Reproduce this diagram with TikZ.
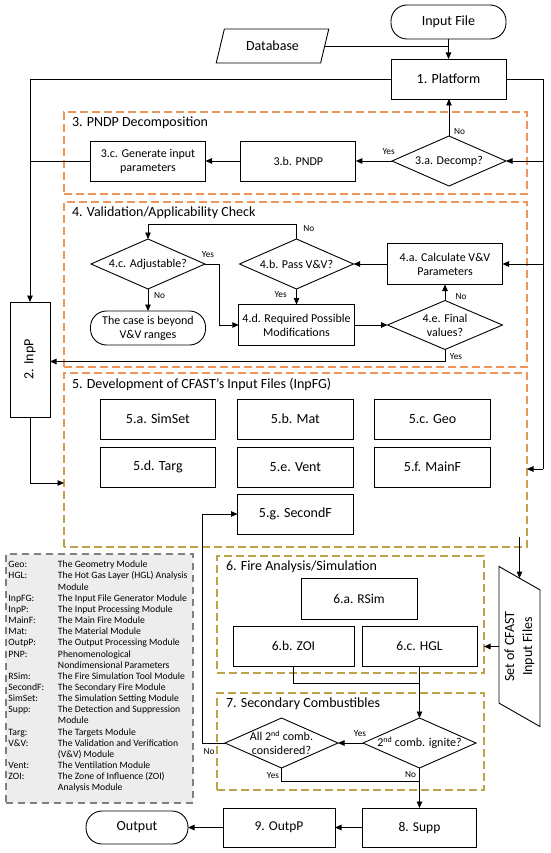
\documentclass[tikz,border=0pt]{standalone}
\usepackage{fontspec}
\usepackage{graphicx}
\setmainfont{Carlito}
\usetikzlibrary{arrows.meta,shapes.geometric,calc}
\definecolor{secorange}{HTML}{F0955A}
\definecolor{secolive}{HTML}{BFA34A}
\definecolor{leggray}{HTML}{808080}
\definecolor{legfill}{HTML}{EDEDED}
\begin{document}
\begin{tikzpicture}[x=1pt,y=-1pt,
  every node/.style={inner sep=0pt, outer sep=0pt},
  con/.style={line width=0.9pt},
  arr/.style={con, -{Triangle[length=6.5pt,width=5.5pt]}},
  fbig/.style={font=\fontsize{14}{16.5}\selectfont},
  fmid/.style={font=\fontsize{12}{14}\selectfont},
  fsix/.style={font=\fontsize{13.5}{16}\selectfont},
  yn/.style={font=\fontsize{9.3}{11}\selectfont},
  boxs/.style={draw, line width=0.9pt, align=center},
  term/.style={boxs, rounded corners=16pt},
  diam/.style={draw, line width=0.9pt, diamond, minimum width=114pt, minimum height=50pt},
  dtext/.style={fmid, align=center},
  secbox/.style={line width=1.4pt, dash pattern=on 8pt off 4pt},
  seclabel/.style={fbig, anchor=west},
  para/.style={draw, line width=0.9pt, trapezium, trapezium stretches=true, align=center},
]
\useasboundingbox (0,0) rectangle (550,853);

% ---- section frames
\node[secbox, draw=secorange, minimum width=463pt, minimum height=82pt] (s3) at (295.5,153) {};
\node[secbox, draw=secorange, minimum width=463pt, minimum height=165pt] (s4) at (295.5,284.5) {};
\node[minimum width=463pt, minimum height=174pt] (s5) at (295.5,460) {};
\foreach \k in {0,...,11} {
  \begin{scope}
    \clip (40,{372+\k*14.6-0.5}) rectangle (545,{372+(\k+1)*14.6+0.5});
    \pgfmathtruncatemacro\pct{100-\k*100/11}
    \draw[secbox, draw=secorange!\pct!secolive] (s5.south west) rectangle (s5.north east);
  \end{scope}
}
\node[secbox, draw=secolive, minimum width=267pt, minimum height=117pt] (s6) at (350.5,614.5) {};
\node[secbox, draw=secolive, minimum width=267pt, minimum height=97pt] (s7) at (350.5,741.5) {};

\node[seclabel] (l3) at (72,123) {3. PNDP Decomposition};
\node[seclabel] (l4) at (72,213) {4. Validation/Applicability Check};
\node[seclabel] (l5) at (72,385) {5. Development of CFAST’s Input Files (InpFG)};
\node[seclabel] (l6) at (226,567) {6. Fire Analysis/Simulation};
\node[seclabel] (l7) at (226,704) {7. Secondary Combustibles};

% ---- top
\node[term, fbig, minimum width=115pt, minimum height=34pt] (inf) at (448.5,22) {Input File};
\node[para, fbig, trapezium left angle=65.5, trapezium right angle=114.5, minimum width=113pt, minimum height=34pt] (db) at (272.5,46) {Database};
\node[boxs, fbig, minimum width=115pt, minimum height=40pt] (plat) at (448.5,79) {1. Platform};

% ---- section 3
\node[diam, label={[dtext]center:3.a. Decomp?}] (d3a) at (449,161) {};
\node[boxs, fmid, minimum width=115pt, minimum height=40pt] (b3b) at (298.3,161) {3.b. PNDP};
\node[boxs, fmid, minimum width=115pt, minimum height=40pt] (b3c) at (148,161) {3.c. Generate input\\parameters};

% ---- section 4
\node[diam, label={[dtext]center:4.c. Adjustable?}] (d4c) at (148,264) {};
\node[diam, label={[dtext]center:4.b. Pass V\&V?}] (d4b) at (296.5,264) {};
\node[boxs, fmid, minimum width=115pt, minimum height=41pt] (b4a) at (445,264) {4.a. Calculate V\&V\\Parameters};
\node[boxs, fmid, minimum width=115.5pt, minimum height=41pt] (b4d) at (296.5,325) {4.d. Required Possible\\Modifications};
\node[term, fmid, minimum width=115pt, minimum height=34pt] (t4) at (148,328) {The case is beyond\\V\&V ranges};
\node[diam, minimum width=115pt, minimum height=49pt, label={[dtext]center:4.e. Final\\values?}] (d4e) at (445,325) {};
\node[boxs, fbig, minimum width=40pt, minimum height=115pt] (inpp) at (30,359.5) {\rotatebox{90}{2. InpP}};

% ---- section 5
\node[boxs, fbig, minimum width=115.7pt, minimum height=40pt] (b5a) at (157.9,419) {5.a. SimSet};
\node[boxs, fbig, minimum width=115.7pt, minimum height=40pt] (b5b) at (295.4,419) {5.b. Mat};
\node[boxs, fbig, minimum width=115.7pt, minimum height=40pt] (b5c) at (432.5,419) {5.c. Geo};
\node[boxs, fbig, minimum width=115.7pt, minimum height=40pt] (b5d) at (157.9,467) {5.d. Targ};
\node[boxs, fbig, minimum width=115.7pt, minimum height=40pt] (b5e) at (295.4,467) {5.e. Vent};
\node[boxs, fbig, minimum width=115.7pt, minimum height=40pt] (b5f) at (432.5,467) {5.f. MainF};
\node[boxs, fbig, minimum width=115.7pt, minimum height=40pt] (b5g) at (295.4,514) {5.g. SecondF};

% ---- section 6
\node[boxs, fsix, minimum width=116pt, minimum height=41pt] (b6a) at (359,598.5) {6.a. RSim};
\node[boxs, fsix, minimum width=121pt, minimum height=40pt] (b6b) at (293.5,646) {6.b. ZOI};
\node[boxs, fsix, minimum width=115pt, minimum height=40pt] (b6c) at (419.5,646) {6.c. HGL};
\node[para, font=\fontsize{14}{18}\selectfont, trapezium left angle=64, trapezium right angle=116, minimum width=161pt, minimum height=41pt, rotate=90] (cfast) at (519.5,646.5) {Set of CFAST\\Input Files};

% ---- section 7
\node[diam, minimum width=113pt, label={[dtext]center:2\textsuperscript{nd} comb. ignite?}] (d7a) at (419.5,743) {};
\node[diam, minimum width=113pt, label={[dtext]center:All 2\textsuperscript{nd} comb.\\considered?}] (d7b) at (281.5,743) {};

% ---- bottom
\node[boxs, fsix, minimum width=114pt, minimum height=39pt] (b8) at (419.5,827.5) {8. Supp};
\node[boxs, fsix, minimum width=112pt, minimum height=39pt] (b9) at (279,827.5) {9. OutpP};
\node[term, fbig, minimum width=102pt, minimum height=33pt] (out) at (137,827.5) {Output};

% ---- legend
\node[draw=leggray, fill=legfill, line width=1.4pt, dash pattern=on 7pt off 5pt, minimum width=187pt, minimum height=249pt] (leg) at (99.5,678.5) {};
\node[anchor=north west, font=\fontsize{9.7}{11.15}\selectfont] (legt) at (8.5,560) {%
\begin{tabular}{@{}p{49.5pt}@{}l@{}}
Geo: & The Geometry Module\\
HGL: & The Hot Gas Layer (HGL) Analysis\\
 & Module\\
InpFG: & The Input File Generator Module\\
InpP: & The Input Processing Module\\
MainF: & The Main Fire Module\\
Mat: & The Material Module\\
OutpP: & The Output Processing Module\\
PNP: & Phenomenological\\
 & Nondimensional Parameters\\
RSim: & The Fire Simulation Tool Module\\
SecondF: & The Secondary Fire Module\\
SimSet: & The Simulation Setting Module\\
Supp: & The Detection and Suppression\\
 & Module\\
Targ: & The Targets Module\\
V\&V: & The Validation and Verification\\
 & (V\&V) Module\\
Vent: & The Ventilation Module\\
ZOI: & The Zone of Influence (ZOI)\\
 & Analysis Module
\end{tabular}};

% ---- connectors
\draw[arr] (inf) -- (plat);
\draw[con] (db.east) -- (db.east -| plat.north);
\draw[arr] (plat.west) -| (inpp.north);
\coordinate (rt) at (543,79);
\coordinate (rb) at (543,469);
\draw[con] (plat.east) -- (rt) -- (rb);
\draw[arr] (rb) -- (rb -| s5.east);
\draw[arr] (rt |- d3a) -- (d3a.east);
\draw[arr] (rt |- b4a) -- (b4a.east);
\draw[arr] (d3a.north) -- (d3a.north |- plat.south);
\draw[arr] (d3a) -- (b3b);
\draw[arr] (b3b) -- (b3c);
\draw[con] (b3c.west) -- (b3c.west -| inpp.north);
\draw[arr] (b4a) -- (d4b);
\draw[arr] (d4b.north) -- ++(0,-15) -| (d4c.north);
\draw[arr] (d4b) -- (b4d);
\draw[arr] (d4c.east) -- ++(14,0) |- (b4d.west);
\draw[arr] (d4c) -- (t4);
\draw[arr] (b4d) -- (d4e);
\draw[arr] (d4e) -- (b4a);
\draw[arr] (d4e.south) -- ++(0,12) coordinate (yy) -- (yy -| inpp.east);
\coordinate (ib) at (30,483);
\draw[arr] (inpp.south) -- (ib) -- (ib -| s5.west);
\draw[arr] ($(cfast.center |- s5.south)+(0,-10)$) -- (cfast.east);
\draw[arr] (cfast.center -| cfast.north) -- (cfast.center -| s6.east);
\draw[con] (b6b.south) -- ++(0,17) -- ($(b6c.south)+(0,17)$);
\draw[arr] (b6c.south) -- (d7a.north);
\draw[arr] (d7a) -- (d7b);
\draw[arr] (d7b.west) -- ++(-23,0) |- (b5g.west);
\draw[con] (d7b.south) |- ($(d7a.south)+(0,13)$);
\draw[arr] (d7a) -- (b8);
\draw[arr] (b8) -- (b9);
\draw[arr] (b9) -- (out);

% ---- yes/no labels
\node[yn] (n1) at (459.5,132) {No};
\node[yn] (y1) at (388.6,152) {Yes};
\node[yn] (n2) at (308.7,229) {No};
\node[yn] (y2) at (280.6,295) {Yes};
\node[yn] (y3) at (208,255) {Yes};
\node[yn] (n3) at (159.6,296) {No};
\node[yn] (n4) at (461,297) {No};
\node[yn] (y4) at (456,357) {Yes};
\node[yn] (y5) at (360,734) {Yes};
\node[yn] (n5) at (209,752) {No};
\node[yn] (y6) at (273,776) {Yes};
\node[yn] (n6) at (410.5,775) {No};
\end{tikzpicture}
\end{document}
